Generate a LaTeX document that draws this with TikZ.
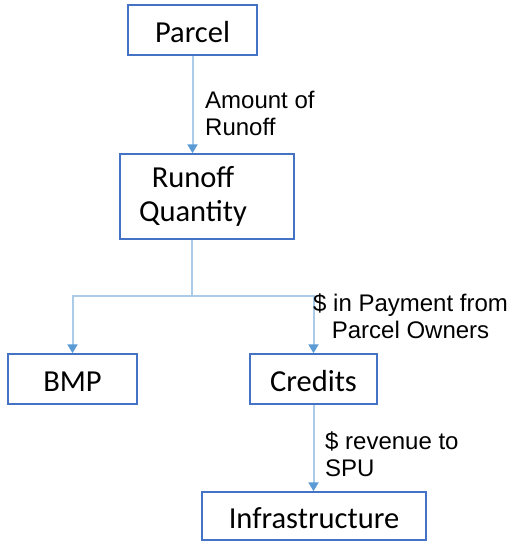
\documentclass[tikz,border=0pt]{standalone}
\usepackage{fontspec}
\setmainfont{Carlito}
\newfontfamily\labelfont{Liberation Sans}
\usetikzlibrary{arrows.meta,positioning}
\definecolor{FlowBlue}{RGB}{68,114,196}
\definecolor{FlowLine}{RGB}{170,204,232}
\definecolor{FlowTip}{RGB}{91,155,213}
\tikzset{
  flow/box/.style={
    draw=FlowBlue,
    line width=1.5pt,
    fill=white,
    align=center,
    text=black,
    inner sep=0pt,
    font=\fontsize{30.5}{34}\selectfont
  },
  flow/onebox/.style={flow/box, text height=25pt, text depth=0pt},
  flow/line/.style={line width=2pt, draw=FlowLine},
  flow/arrow/.style={flow/line, -{Triangle[length=9pt,width=10pt,color=FlowTip]}},
  flow/label/.style={
    anchor=north west,
    inner sep=0pt,
    align=left,
    text=black,
    font=\labelfont\fontsize{24}{27}\selectfont
  }
}
\begin{document}
\begin{tikzpicture}[x=1pt,y=-1pt]
  \useasboundingbox (0,0) rectangle (512,544);
  % boxes
  \node[flow/onebox,minimum width=129pt,minimum height=50pt] (parcel) at (192.5,30) {Parcel};
  \node[flow/box,minimum width=174pt,minimum height=85pt] (runoff) at (207,196.5)
    {Runoff\hspace*{28pt}\\Quantity\hspace*{28pt}};
  \node[flow/onebox,minimum width=129pt,minimum height=50pt] (bmp) at (72.5,379) {BMP};
  \node[flow/onebox,minimum width=127pt,minimum height=50pt] (credits) at (313.5,379) {Credits};
  \node[flow/onebox,minimum width=224pt,minimum height=48pt] (infra) at (314,516) {Infrastructure};
  % connectors
  \coordinate (split) at (192,296);
  \draw[flow/arrow] (parcel.south) -- (parcel.south |- runoff.north);
  \draw[flow/line] (split |- runoff.south) -- (split);
  \draw[flow/arrow] (split) -| (bmp.north);
  \draw[flow/arrow] (split) -| (credits.north);
  \draw[flow/arrow] (credits.south) -- (credits.south |- infra.north);
  % labels
  \node[flow/label] (lamount) at (205,90.5) {Amount of\\Runoff};
  \node[flow/label,align=center] (lpay) at (313,293.5) {\$ in Payment from\\Parcel Owners};
  \node[flow/label] (lrev) at (325,431.5) {\$ revenue to\\SPU};
\end{tikzpicture}
\end{document}
